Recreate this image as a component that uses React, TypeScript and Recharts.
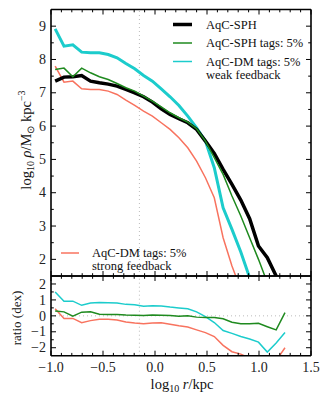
import React from 'react';
import { LineChart, Line, XAxis, YAxis, ReferenceLine } from 'recharts';

// ---- data ----
const logR = [-0.96, -0.875, -0.79, -0.705, -0.62, -0.535, -0.45, -0.365, -0.28, -0.195, -0.11, -0.025, 0.06, 0.145, 0.23, 0.315, 0.4, 0.485, 0.57, 0.655, 0.74, 0.825, 0.91, 0.995, 1.08, 1.165, 1.25];

const rhoSPH = [7.35, 7.47, 7.48, 7.52, 7.35, 7.3, 7.26, 7.2, 7.1, 7.0, 6.88, 6.72, 6.52, 6.35, 6.22, 6.1, 5.9, 5.55, 5.18, 4.7, 4.25, 3.78, 3.22, 2.4, 2.05, 1.5, 1.0];
const rhoSPHTags = [7.7, 7.74, 7.48, 7.74, 7.6, 7.48, 7.4, 7.28, 7.15, 7.05, 6.9, 6.75, 6.58, 6.4, 6.25, 6.12, 5.92, 5.55, 5.05, 4.55, 3.9, 3.3, 2.65, 2.0, 1.3];
const rhoDMWeak = [8.92, 8.4, 8.44, 8.22, 8.2, 8.2, 8.15, 8.05, 7.88, 7.72, 7.52, 7.35, 7.12, 6.88, 6.62, 6.3, 5.95, 5.55, 4.75, 3.55, 2.9, 2.22, 1.45];
const rhoDMStrong = [7.8, 7.32, 7.35, 7.12, 7.1, 7.1, 7.05, 6.95, 6.78, 6.62, 6.45, 6.3, 6.1, 5.9, 5.65, 5.35, 4.95, 4.45, 3.85, 2.65, 1.8, 1.1];

const ratioSPHTags = [0.31, 0.25, -0.02, 0.23, 0.25, 0.1, 0.09, 0.08, 0.05, 0.04, 0.02, 0.06, 0.04, 0.02, -0.02, 0.0, -0.08, -0.1, -0.1, -0.18, -0.4, -0.5, -0.5, -0.47, -0.68, -0.88, 0.2];
const ratioDMWeak = [1.5, 0.92, 0.92, 0.66, 0.8, 0.84, 0.82, 0.8, 0.72, 0.7, 0.6, 0.64, 0.62, 0.55, 0.5, 0.45, 0.25, -0.05, -0.42, -0.92, -1.1, -1.29, -1.45, -1.65, -2.27, -1.7, -1.05];
const ratioDMStrong = [0.45, -0.16, -0.16, -0.43, -0.3, -0.22, -0.22, -0.26, -0.38, -0.45, -0.5, -0.45, -0.43, -0.52, -0.62, -0.7, -0.88, -1.05, -1.3, -1.85, -2.25, -2.4, -2.65, -2.9, -3.1, -2.8, -2.0];

const xTicks = [-1, -0.9, -0.8, -0.7, -0.6, -0.5, -0.4, -0.3, -0.2, -0.1, 0, 0.1, 0.2, 0.3, 0.4, 0.5, 0.6, 0.7, 0.8, 0.9, 1, 1.1, 1.2, 1.3, 1.4, 1.5];
const xMajor = [-1, -0.5, 0, 0.5, 1, 1.5];
const xLabels = ['\u22121.0', '\u22120.5', '0.0', '0.5', '1.0', '1.5'];

const rhoTicks = [2, 2.5, 3, 3.5, 4, 4.5, 5, 5.5, 6, 6.5, 7, 7.5, 8, 8.5, 9, 9.5];
const rhoMajor = [2, 3, 4, 5, 6, 7, 8, 9];
const rhoLabels = ['2', '3', '4', '5', '6', '7', '8', '9'];

const ratioTicks = [-2, -1.5, -1, -0.5, 0, 0.5, 1, 1.5, 2];
const ratioMajor = [-2, -1, 0, 1, 2];
const ratioLabels = ['\u22122', '\u22121', '0', '1', '2'];

const rCut = -0.15;

const topData = logR.map((x, i) => ({
  x,
  sph: rhoSPH[i] ?? null,
  sphTags: rhoSPHTags[i] ?? null,
  dmWeak: rhoDMWeak[i] ?? null,
  dmStrong: rhoDMStrong[i] ?? null,
}));
const ratioData = logR.map((x, i) => ({
  x,
  sphTags: ratioSPHTags[i] ?? null,
  dmWeak: ratioDMWeak[i] ?? null,
  dmStrong: ratioDMStrong[i] ?? null,
}));

// ---- styles ----
const FONT = '"Liberation Serif", "Times New Roman", serif';
const C_BLACK = '#000000';
const C_GREEN = '#1f8a1f';
const C_CYAN = '#1ccccc';
const C_RED = '#f8735f';
const MAJ = 5;
const MIN = 2.8;

const idx = (arr: number[], v: number) => arr.findIndex((m) => Math.abs(m - v) < 1e-6);

const makeTick = (side: 'bottom' | 'top' | 'left' | 'right', major: number[], labels: string[] | null) =>
  (props: any) => {
    const { x, y, payload } = props;
    const v = payload.value;
    const k = idx(major, v);
    const len = k >= 0 ? MAJ : MIN;
    let line;
    if (side === 'bottom') line = <line x1={x} x2={x} y1={y} y2={y - len} stroke="#000" strokeWidth={1} />;
    else if (side === 'top') line = <line x1={x} x2={x} y1={y} y2={y + len} stroke="#000" strokeWidth={1} />;
    else if (side === 'left') line = <line x1={x} x2={x + len} y1={y} y2={y} stroke="#000" strokeWidth={1} />;
    else line = <line x1={x} x2={x - len} y1={y} y2={y} stroke="#000" strokeWidth={1} />;
    let label = null;
    if (labels && k >= 0) {
      if (side === 'bottom')
        label = (
          <text x={x} y={y + 16} textAnchor="middle" fontFamily={FONT} fontSize={14} fill="#222">
            {labels[k]}
          </text>
        );
      else if (side === 'left')
        label = (
          <text x={x - 5} y={y + 4.7} textAnchor="end" fontFamily={FONT} fontSize={14} fill="#222">
            {labels[k]}
          </text>
        );
    }
    return (
      <g>
        {line}
        {label}
      </g>
    );
  };

const axisLine = { stroke: '#000', strokeWidth: 1.6 };

export default function App() {
  const W = 330;
  const H = 405;
  const L = 51;
  const R = W - 311;
  return (
    <div style={{ position: 'absolute', left: 0, top: 0, width: W, height: H, background: '#fff' }}>
      {/* top panel */}
      <div style={{ position: 'absolute', left: 0, top: 0 }}>
        <LineChart width={W} height={H} data={topData} margin={{ top: 8.5, right: R - 1, bottom: H - 276 - 1, left: L - 1 }}>
          <XAxis xAxisId="b" dataKey="x" type="number" domain={[-1, 1.5]} ticks={xTicks} interval={0} height={1}
            tickSize={0} tickMargin={0} tickLine={false} axisLine={axisLine} tick={makeTick('bottom', xMajor, null)} allowDataOverflow />
          <XAxis xAxisId="t" orientation="top" dataKey="x" type="number" domain={[-1, 1.5]} ticks={xTicks} interval={0} height={1}
            tickSize={0} tickMargin={0} tickLine={false} axisLine={axisLine} tick={makeTick('top', xMajor, null)} allowDataOverflow />
          <YAxis yAxisId="l" type="number" domain={[1.5, 9.5]} ticks={rhoTicks} interval={0} width={1}
            tickSize={0} tickMargin={0} tickLine={false} axisLine={axisLine} tick={makeTick('left', rhoMajor, rhoLabels)} allowDataOverflow />
          <YAxis yAxisId="r" orientation="right" type="number" domain={[1.5, 9.5]} ticks={rhoTicks} interval={0} width={1}
            tickSize={0} tickMargin={0} tickLine={false} axisLine={axisLine} tick={makeTick('right', rhoMajor, null)} allowDataOverflow />
          <ReferenceLine xAxisId="b" yAxisId="l" x={rCut} stroke="#bbbbbb" strokeWidth={1} strokeDasharray="1 3" />
          <Line xAxisId="b" yAxisId="l" dataKey="dmStrong" stroke={C_RED} strokeWidth={1.5} dot={false} isAnimationActive={false} />
          <Line xAxisId="b" yAxisId="l" dataKey="dmWeak" stroke={C_CYAN} strokeWidth={3} dot={false} isAnimationActive={false} />
          <Line xAxisId="b" yAxisId="l" dataKey="sph" stroke={C_BLACK} strokeWidth={3.5} dot={false} isAnimationActive={false} />
          <Line xAxisId="b" yAxisId="l" dataKey="sphTags" stroke={C_GREEN} strokeWidth={1.5} dot={false} isAnimationActive={false} />
        </LineChart>
      </div>
      {/* ratio panel */}
      <div style={{ position: 'absolute', left: 0, top: 0 }}>
        <LineChart width={W} height={H} data={ratioData} margin={{ top: 275, right: R - 1, bottom: H - 355.7 - 1, left: L - 1 }}>
          <XAxis xAxisId="b" dataKey="x" type="number" domain={[-1, 1.5]} ticks={xTicks} interval={0} height={1}
            tickSize={0} tickMargin={0} tickLine={false} axisLine={axisLine} tick={makeTick('bottom', xMajor, xLabels)} allowDataOverflow />
          <XAxis xAxisId="t" orientation="top" dataKey="x" type="number" domain={[-1, 1.5]} ticks={xTicks} interval={0} height={1}
            tickSize={0} tickMargin={0} tickLine={false} axisLine={axisLine} tick={makeTick('top', xMajor, null)} allowDataOverflow />
          <YAxis yAxisId="l" type="number" domain={[-2.5, 2.5]} ticks={ratioTicks} interval={0} width={1}
            tickSize={0} tickMargin={0} tickLine={false} axisLine={axisLine} tick={makeTick('left', ratioMajor, ratioLabels)} allowDataOverflow />
          <YAxis yAxisId="r" orientation="right" type="number" domain={[-2.5, 2.5]} ticks={ratioTicks} interval={0} width={1}
            tickSize={0} tickMargin={0} tickLine={false} axisLine={axisLine} tick={makeTick('right', ratioMajor, null)} allowDataOverflow />
          <ReferenceLine xAxisId="b" yAxisId="l" x={rCut} stroke="#bbbbbb" strokeWidth={1} strokeDasharray="1 3" />
          <ReferenceLine xAxisId="b" yAxisId="l" y={0} stroke="#bbbbbb" strokeWidth={1} strokeDasharray="1 3" />
          <Line xAxisId="b" yAxisId="l" dataKey="dmStrong" stroke={C_RED} strokeWidth={1.5} dot={false} isAnimationActive={false} />
          <Line xAxisId="b" yAxisId="l" dataKey="dmWeak" stroke={C_CYAN} strokeWidth={1.5} dot={false} isAnimationActive={false} />
          <Line xAxisId="b" yAxisId="l" dataKey="sphTags" stroke={C_GREEN} strokeWidth={1.5} dot={false} isAnimationActive={false} />
        </LineChart>
      </div>
      {/* legends and axis titles */}
      <svg width={W} height={H} style={{ position: 'absolute', left: 0, top: 0, pointerEvents: 'none' }}>
        <g fontFamily={FONT} fontSize={12.5} fill="#111">
          <line x1={173} x2={192} y1={24.5} y2={24.5} stroke={C_BLACK} strokeWidth={3.5} />
          <text x={206} y={28.5}>AqC-SPH</text>
          <line x1={173} x2={192} y1={43} y2={43} stroke={C_GREEN} strokeWidth={1.5} />
          <text x={206} y={47}>AqC-SPH tags: 5%</text>
          <line x1={173} x2={192} y1={61.5} y2={61.5} stroke={C_CYAN} strokeWidth={1.5} />
          <text x={206} y={65.5}>AqC-DM tags: 5%</text>
          <text x={206} y={79}>weak feedback</text>
          <line x1={61} x2={79} y1={253} y2={253} stroke={C_RED} strokeWidth={1.5} />
          <text x={92} y={257}>AqC-DM tags: 5%</text>
          <text x={92} y={270}>strong feedback</text>
        </g>
        <g fontFamily={FONT} fontSize={14.5} fill="#111">
          <text transform="rotate(-90 31 140)" x={31} y={140} textAnchor="middle">
            log<tspan fontSize={10} dy={3}>10</tspan>
            <tspan dy={-3}> </tspan>
            <tspan fontStyle="italic">ρ</tspan>/M<tspan fontSize={10} dy={3}>⊙</tspan>
            <tspan dy={-3}> kpc</tspan>
            <tspan fontSize={10} dy={-6}>−3</tspan>
          </text>
          <text transform="rotate(-90 21 318)" x={21} y={318} textAnchor="middle" fontSize={13}>
            ratio (dex)
          </text>
          <text x={182} y={389} textAnchor="middle">
            log<tspan fontSize={10} dy={3}>10</tspan>
            <tspan dy={-3}> </tspan>
            <tspan fontStyle="italic">r</tspan>/kpc
          </text>
        </g>
      </svg>
    </div>
  );
}
